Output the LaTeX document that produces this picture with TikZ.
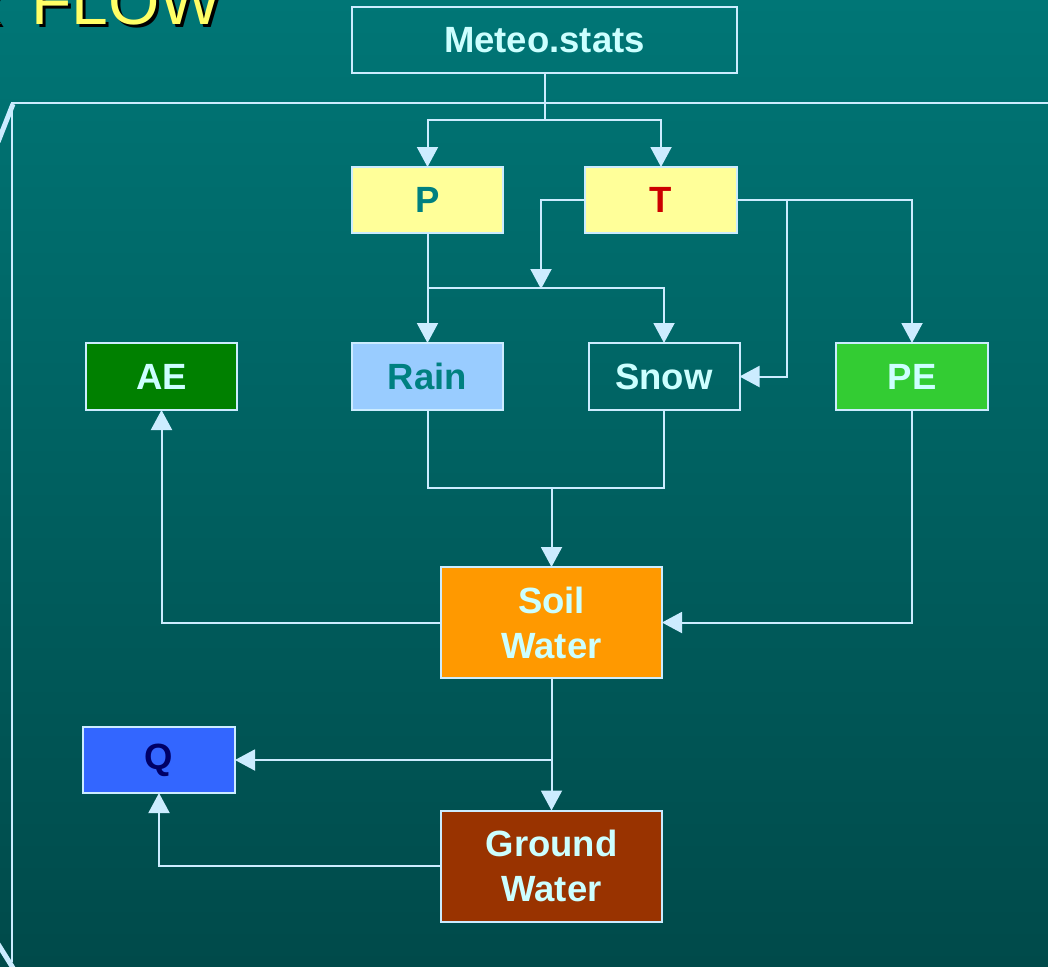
\documentclass[tikz,border=0pt]{standalone}
\usepackage{fontspec}
\setmainfont{Liberation Sans}
\usetikzlibrary{arrows.meta}

\definecolor{bgtop}{HTML}{007676}
\definecolor{bgbot}{HTML}{004A4A}
\definecolor{wire}{HTML}{CCECFF}
\definecolor{pale}{HTML}{CCFFFF}
\definecolor{lemon}{HTML}{FFFF99}
\definecolor{sky}{HTML}{99CCFF}
\definecolor{leaf}{HTML}{008000}
\definecolor{lime}{HTML}{33CC33}
\definecolor{amber}{HTML}{FF9900}
\definecolor{rust}{HTML}{993300}
\definecolor{royal}{HTML}{3366FF}
\definecolor{tealtxt}{HTML}{008080}
\definecolor{redtxt}{HTML}{CC0000}
\definecolor{navytxt}{HTML}{000066}
\definecolor{titley}{HTML}{FFFF66}

\tikzset{
  box/.style={draw=wire, line width=2pt, inner sep=0pt, outer sep=0pt,
    minimum width=151pt, minimum height=66pt, text=pale,
    font=\fontsize{36.5}{45}\selectfont\bfseries, align=center},
  bigbox/.style={box, minimum width=221pt, minimum height=111pt},
  link/.style={draw=wire, line width=2pt},
  arr/.style={link, -{Triangle[length=20pt,width=21pt]}},
  rim/.style={draw=wire, line width=2pt},
  title/.style={inner sep=0pt, font=\fontsize{66}{70}\selectfont}
}

\begin{document}
\begin{tikzpicture}[x=1pt, y=-1pt]
  % page and background
  \useasboundingbox (0,0) rectangle (1048,966);
  \clip (0,0) rectangle (1048,966);
  \shade[top color=bgtop, bottom color=bgbot] (0,0) rectangle (1048,966);

  % slide heading, partly cut by the page edge
  \node[title, anchor=base east, text=black] at (7,28) {R};
  \node[title, anchor=base east, text=titley] at (4,25) {R};
  \node[title, anchor=base west, text=black] at (34,28) {FLOW};
  \node[title, anchor=base west, text=titley] at (31,25) {FLOW};

  % framing box
  \draw[rim] (1050,103) -- (12,103) -- (12,962);
  \draw[draw=wire, line width=5pt] (13,104) -- (-2,142);
  \draw[draw=wire, line width=5pt] (-2,944) -- (13,968);

  % boxes
  \node[box, minimum width=385pt] (meteo) at (544.5,40) {Meteo.stats};
  \node[box, fill=lemon, text=tealtxt] (P) at (427.5,200) {P};
  \node[box, fill=lemon, text=redtxt, minimum width=152pt] (T) at (661,200) {T};
  \node[box, fill=sky, text=tealtxt, minimum height=67pt] (rain) at (427.5,376.5) {Rain};
  \node[box, minimum height=67pt] (snow) at (664,376.5) {Snow};
  \node[box, fill=lime, minimum width=152pt, minimum height=67pt] (PE) at (912,376.5) {PE};
  \node[box, fill=leaf, minimum height=67pt] (AE) at (161.5,376.5) {AE};
  \node[bigbox, fill=amber] (soil) at (551.5,622.5) {Soil\\Water};
  \node[bigbox, fill=rust] (ground) at (551.5,866) {Ground\\Water};
  \node[box, fill=royal, text=navytxt, minimum width=152pt] (Q) at (159,760) {Q};

  % junction points
  \coordinate (mj) at (544.5,120);
  \coordinate (tw) at (541,289);
  \coordinate (pj) at (427.5,288);
  \coordinate (tj) at (787,200);
  \coordinate (rj) at (551.5,488);
  \coordinate (sj) at (551.5,760);

  % connectors
  \draw[link] (meteo) -- (mj);
  \draw[arr] (mj) -| (P);
  \draw[arr] (mj) -| (T);
  \draw[arr] (T.west) -| (tw);
  \draw[arr] (P) -- (rain);
  \draw[arr] (pj) -| (snow);
  \draw[arr] (T.east) -| (PE);
  \draw[arr] (tj) |- (snow.east);
  \draw[link] (rain.south) -- (rain.south |- rj) -- (snow.south |- rj) -- (snow.south);
  \draw[arr] (rj) -- (soil);
  \draw[arr] (PE) |- (soil.east);
  \draw[arr] (soil.west) -| (AE);
  \draw[arr] (soil) -- (ground);
  \draw[arr] (sj) -- (Q.east);
  \draw[arr] (ground.west) -| (Q);
\end{tikzpicture}
\end{document}
